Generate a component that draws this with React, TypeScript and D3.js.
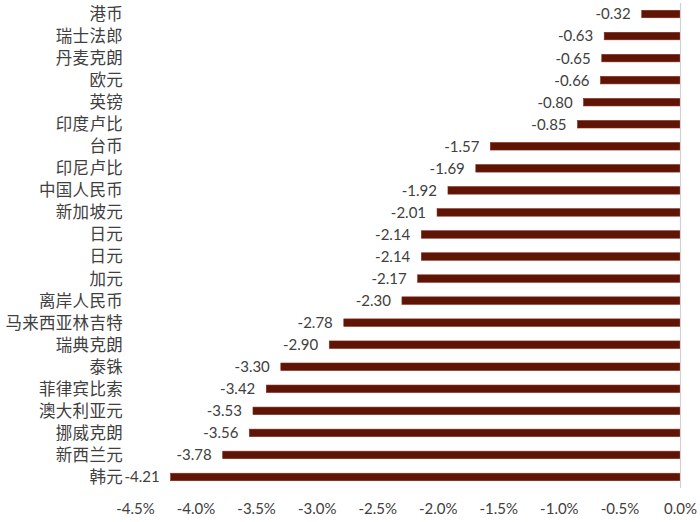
import React from "react";
import * as d3 from "d3";

const categories = [
  "港币", "瑞士法郎", "丹麦克朗", "欧元", "英镑", "印度卢比", "台币", "印尼卢比",
  "中国人民币", "新加坡元", "日元", "日元", "加元", "离岸人民币", "马来西亚林吉特",
  "瑞典克朗", "泰铢", "菲律宾比索", "澳大利亚元", "挪威克朗", "新西兰元", "韩元",
];
const values = [
  -0.32, -0.63, -0.65, -0.66, -0.8, -0.85, -1.57, -1.69, -1.92, -2.01, -2.14, -2.14,
  -2.17, -2.3, -2.78, -2.9, -3.3, -3.42, -3.53, -3.56, -3.78, -4.21,
];
const ticks = [-4.5, -4.0, -3.5, -3.0, -2.5, -2.0, -1.5, -1.0, -0.5, 0.0];

const W = 700;
const H = 522;

export default function App() {
  const x = d3.scaleLinear().domain([-4.5, 0]).range([135.5, 680.5]);
  const idx = categories.map((_, i) => String(i));
  const y = d3.scaleBand<string>().domain(idx).range([3, 488]).paddingInner(0.66).paddingOuter(0.33);
  const bw = y.bandwidth();
  const numFont = "Lato, 'Open Sans', sans-serif";
  const cjkFont = "'Noto Sans CJK SC', sans-serif";
  return (
    <svg width={W} height={H} style={{ position: "absolute", left: 0, top: 0, background: "#fff" }}>
      {values.map((v, i) => {
        const yc = (y(String(i)) as number) + bw / 2;
        return (
          <g key={i}>
            <rect x={x(v)} y={yc - bw / 2} width={x(0) - x(v)} height={bw} fill="#5f1405" stroke="#7a2a1a" strokeWidth={0.6} />
            <text x={x(v) - 11} y={yc} dy="0.36em" textAnchor="end" fontFamily={numFont} fontSize={15} fill="#404040">
              {v.toFixed(2)}
            </text>
            <text x={123} y={yc} dy="0.36em" textAnchor="end" fontFamily={cjkFont} fontSize={16.5} letterSpacing={0.3} fill="#404040">
              {categories[i]}
            </text>
          </g>
        );
      })}
      <line x1={x(0)} x2={x(0)} y1={3} y2={488} stroke="#d0d0d0" strokeWidth={1.2} />
      {ticks.map((t) => (
        <text key={t} x={x(t)} y={509} dy="0.36em" textAnchor="middle" fontFamily={numFont} fontSize={15} fill="#404040">
          {t.toFixed(1) + "%"}
        </text>
      ))}
    </svg>
  );
}
